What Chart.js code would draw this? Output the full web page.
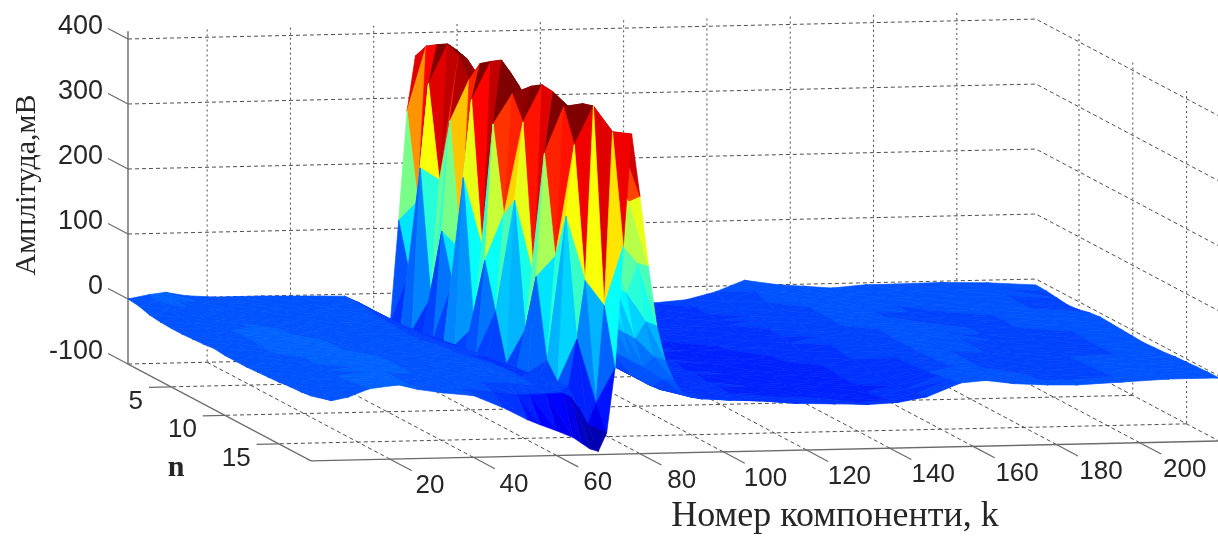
<!DOCTYPE html>
<html><head><meta charset="utf-8">
<style>html,body{margin:0;padding:0;background:#fff}canvas{display:block;filter:blur(0.6px)}</style>
<script src="https://cdn.jsdelivr.net/npm/chart.js@4/dist/chart.umd.min.js"></script>
</head><body><canvas id="c" width="1218" height="537"></canvas>
<script>
const kTicks=[20,40,60,80,100,120,140,160,180,200];
const nTicks=[5,10,15];
const zTicks=[-100,0,100,200,300,400];
const kLeft=[1,6,10,15,22,27,33,40,47,53,56,60];
const kPulse=[64,66,68,70,72,74,76,78,80,82,84,86,88,90];
const kRight=[95,102,109,118,127,135,142,149,157,163,170,178,185,196,207,219];
const zLeft=[
[0,6,9,3,0,0,0,-1,-2,-3,-12,-28],
[-2,3,5,2,-2,-2,-2,-3,-4,-5,-12,-27],
[-7,0,3,1,-3,-4,-3,-4,-6,-6,-12,-26],
[-9,-2,1,0,-4,-5,-6,-5,-6,-8,-12,-25],
[-10,-3,0,2,-1,-3,-4,-6,-7,-8,-12,-24],
[-10,-2,2,4,1,-1,-4,-7,-9,-9,-13,-22],
[-9,-1,3,6,3,0,-3,-8,-9,-10,-13,-20],
[-8,0,5,7,4,2,-3,-8,-10,-9,-12,-18],
[-6,2,6,8,5,3,-2,-7,-9,-8,-11,-17],
[-8,0,4,7,6,4,0,-5,-8,-7,-10,-15],
[-8,-1,3,5,6,5,2,-3,-6,-5,-8,-13],
[-8,-2,1,4,7,6,3,-1,-5,-4,-6,-11],
[-7,-2,0,3,6,6,4,0,-3,-2,-5,-9],
[-6,-3,-1,2,6,5,4,1,-2,-1,-4,-8],
[-5,-4,-2,2,7,5,3,0,-3,-1,-4,-9],
[-3,-5,-3,4,9,5,2,-1,-4,-5,-7,-10],
[-2,-6,-3,6,11,5,1,-3,-8,-14,-14,-14],
[0,-8,-3,9,14,6,0,-5,-24,-44,-52,-62]];
const zPulse=[
[-44,112,280,364,350,335,300,240,170,110,50,10,-15,-20],
[-42,40,150,388,385,360,320,250,180,115,55,12,-14,-20],
[-40,210,340,399,392,370,330,260,185,120,55,12,-14,-20],
[-37,20,200,409,400,375,335,265,190,120,58,14,-14,-20],
[-33,130,300,400,395,375,335,265,190,120,58,14,-14,-20],
[-30,60,110,372,370,360,325,260,185,118,55,12,-15,-20],
[-27,230,350,405,400,380,340,270,190,120,58,14,-15,-20],
[-24,10,130,417,410,385,345,270,195,125,58,14,-15,-20],
[-22,120,330,428,410,390,345,270,195,125,58,14,-15,-20],
[-19,50,200,385,385,370,335,265,190,120,55,14,-15,-20],
[-30,-21,230,350,405,385,345,270,195,125,58,14,-15,-22],
[-28,-19,40,120,416,390,350,275,195,125,58,14,-15,-22],
[-26,-17,130,320,414,385,350,275,195,125,58,14,-15,-22],
[-25,-13,10,170,400,395,355,280,200,125,60,15,-14,-22],
[-25,-18,-14,240,350,413,380,300,205,130,60,15,-14,-22],
[-20,-18,-12,60,150,418,385,310,210,130,60,15,-14,-20],
[-13,-20,-38,-62,-30,120,387,370,280,185,95,40,5,-14],
[-73,-82,-91,-95,-67,32,220,392,296,189,97,44,13,-7]];
const zRight=[
[-22,-24,-25,-26,-24,-20,-9,8,0,-3,-7,-3,-3,-2,-4,-9],
[-24,-27,-29,-30,-27,-23,-14,0,-3,-4,-7,-5,-4,-4,-5,-10],
[-28,-33,-36,-33,-30,-25,-18,-8,-6,-5,-8,-6,-6,-6,-7,-12],
[-30,-36,-41,-38,-34,-26,-20,-12,-9,-7,-9,-9,-8,-8,-8,-14],
[-29,-33,-36,-34,-30,-24,-18,-13,-10,-8,-9,-11,-10,-8,-8,-12],
[-31,-36,-40,-39,-34,-28,-22,-14,-10,-8,-8,-12,-12,-9,-7,-8],
[-33,-37,-38,-40,-38,-30,-24,-17,-11,-8,-8,-10,-11,-9,-7,-6],
[-30,-33,-35,-36,-35,-33,-26,-18,-12,-8,-7,-9,-10,-10,-8,-7],
[-32,-36,-38,-40,-40,-37,-30,-21,-14,-9,-8,-9,-10,-11,-9,-8],
[-30,-33,-34,-37,-38,-36,-32,-24,-15,-10,-8,-9,-11,-12,-10,-9],
[-32,-36,-38,-41,-42,-40,-35,-26,-15,-10,-8,-10,-12,-13,-10,-10],
[-30,-34,-35,-37,-39,-40,-36,-28,-16,-10,-8,-11,-14,-12,-10,-9],
[-32,-36,-38,-40,-42,-43,-38,-29,-15,-9,-8,-12,-13,-11,-9,-8],
[-30,-34,-36,-38,-40,-41,-38,-30,-14,-7,-8,-13,-13,-10,-7,-6],
[-31,-35,-38,-40,-42,-44,-40,-31,-12,-5,-7,-12,-13,-9,-6,-5],
[-28,-32,-34,-36,-38,-40,-38,-28,-9,-3,-7,-10,-12,-8,-5,-4],
[-24,-28,-30,-33,-36,-38,-35,-26,-6,-1,-6,-9,-11,-7,-4,-3],
[-18,-21,-23,-28,-30,-32,-30,-22,-2,1,-5,-8,-9,-6,-3,-3]];
const levelZ=[-100,-40,0,70,130,200,280,330,365,400];
const levelC=[0.03,0.17,0.215,0.30,0.40,0.50,0.625,0.76,0.90,1.0];

const kAll=kLeft.concat(kPulse,kRight);
const rows=zLeft.map((r,i)=>r.concat(zPulse[i],zRight[i]));
const K0=1,K1=219,N0=1,N1=18,ZTOP=412;
function view(k,n,z){return {x:128+4.165*(k-1)+10.76*(n-1),y:299-0.0915*(k-1)+5.7*(n-1)-0.65*z};}
function jet(t){t=Math.max(0,Math.min(1,t));t=Math.floor(t*63.999)/63;
 const f=v=>Math.round(255*Math.max(0,Math.min(1,1.5-Math.abs(4*t-v))));
 return `rgb(${f(3)},${f(2)},${f(1)})`;}
function level(z){if(z<=levelZ[0])return levelC[0];
 for(let i=1;i<levelZ.length;i++){if(z<=levelZ[i]){const u=(z-levelZ[i-1])/(levelZ[i]-levelZ[i-1]);return levelC[i-1]+u*(levelC[i]-levelC[i-1]);}}
 return 1;}
function color(a,b,c){const m=(a+b+c)/3,mx=Math.max(a,b,c),mn=Math.min(a,b,c);
 const hiW=Math.max(0,Math.min(1,(m-150)/150)),loW=Math.max(0,Math.min(1,(90-m)/70));
 return jet(level(m+hiW*(mx-m)/2-loW*(m-mn)/1.6));}
const sets=[];
function path(pts,col,w,dash){sets.push({data:pts,showLine:true,fill:false,borderColor:col,borderWidth:w,borderDash:dash||[],pointRadius:0,tension:0});}
const GRID='#4d4d4d',AXIS='#6a6a6a',DASH=[4,3],DOT=[2,3];
const floorZ=-100;
for(const z of zTicks){path([view(K0,N0,z),view(K1,N0,z),view(K1,N1,z)],GRID,1,DASH);}
for(const k of kTicks){path([view(k,N0,ZTOP),view(k,N0,floorZ)],GRID,1,DOT);path([view(k,N0,floorZ),view(k,N1,floorZ)],GRID,1,DASH);}
for(const n of nTicks){path([view(K1,n,ZTOP),view(K1,n,floorZ)],GRID,1,DOT);path([view(K1,n,floorZ),view(K0,n,floorZ)],GRID,1,DASH);}
path([view(K0,N0,ZTOP),view(K0,N0,floorZ),view(K0,N1,floorZ),view(K1,N1,floorZ)],AXIS,1.4);
for(const z of zTicks){path([view(K0,N0,z),view(K0,N0-1.85,z)],AXIS,1.2);}
for(const k of kTicks){path([view(k,N1,floorZ),view(k,N1+2,floorZ)],AXIS,1.2);}
for(const n of nTicks){path([view(K0,n,floorZ),view(K0-5.3,n,floorZ)],AXIS,1.2);}
function tri(a,b,c){const col=color(a[2],b[2],c[2]);
 const pts=[a,b,c,a].map(p=>view(p[0],p[1],p[2]));
 sets.push({data:pts,showLine:true,fill:'shape',backgroundColor:col,borderColor:col,borderWidth:0.7,pointRadius:0,tension:0});}
for(let i=kAll.length-2;i>=0;i--){
 for(let j=0;j<rows.length-1;j++){
  const A=[kAll[i],j+1,rows[j][i]],B=[kAll[i+1],j+1,rows[j][i+1]],C=[kAll[i+1],j+2,rows[j+1][i+1]],D=[kAll[i],j+2,rows[j+1][i]];
  tri(B,A,C);tri(A,C,D);
 }
}
const textPlugin={id:'labels',afterDraw(ch){
 const g=ch.ctx,sx=ch.scales.x,sy=ch.scales.y;
 const at=(x,y)=>[sx.getPixelForValue(x),sy.getPixelForValue(y)];
 g.save();g.fillStyle='#262626';g.textBaseline='middle';
 g.font='27px "Liberation Sans"';g.textAlign='right';
 for(const z of zTicks){const p=view(K0,N0,z),q=at(p.x-25,p.y-12);g.fillText(String(z),q[0],q[1]);}
 g.font='26px "Liberation Sans"';
 for(const n of nTicks){const p=view(K0,n,floorZ),q=at(p.x-28,p.y+15);g.fillText(String(n),q[0],q[1]);}
 g.textAlign='center';
 for(const k of kTicks){const p=view(k,N1,floorZ),q=at(p.x+40+(k-20)*0.028,p.y+27);g.fillText(String(k),q[0],q[1]);}
 g.font='bold 30px "Liberation Serif"';g.fillText('n',176,468);
 g.font='36px "Liberation Serif"';g.fillText('Номер компоненти, k',835,517);
 g.font='30px "Liberation Serif"';
 g.translate(27,185);g.rotate(-Math.PI/2);g.fillText('Амплітуда,мВ',0,0);
 g.restore();}};
new Chart(document.getElementById('c'),{type:'scatter',data:{datasets:sets.reverse()},plugins:[textPlugin],
 options:{responsive:false,animation:false,events:[],layout:{padding:0},
 plugins:{legend:{display:false},tooltip:{enabled:false}},
 scales:{x:{type:'linear',min:0,max:1218,display:false},y:{type:'linear',min:0,max:537,reverse:true,display:false}}}});
</script></body></html>
